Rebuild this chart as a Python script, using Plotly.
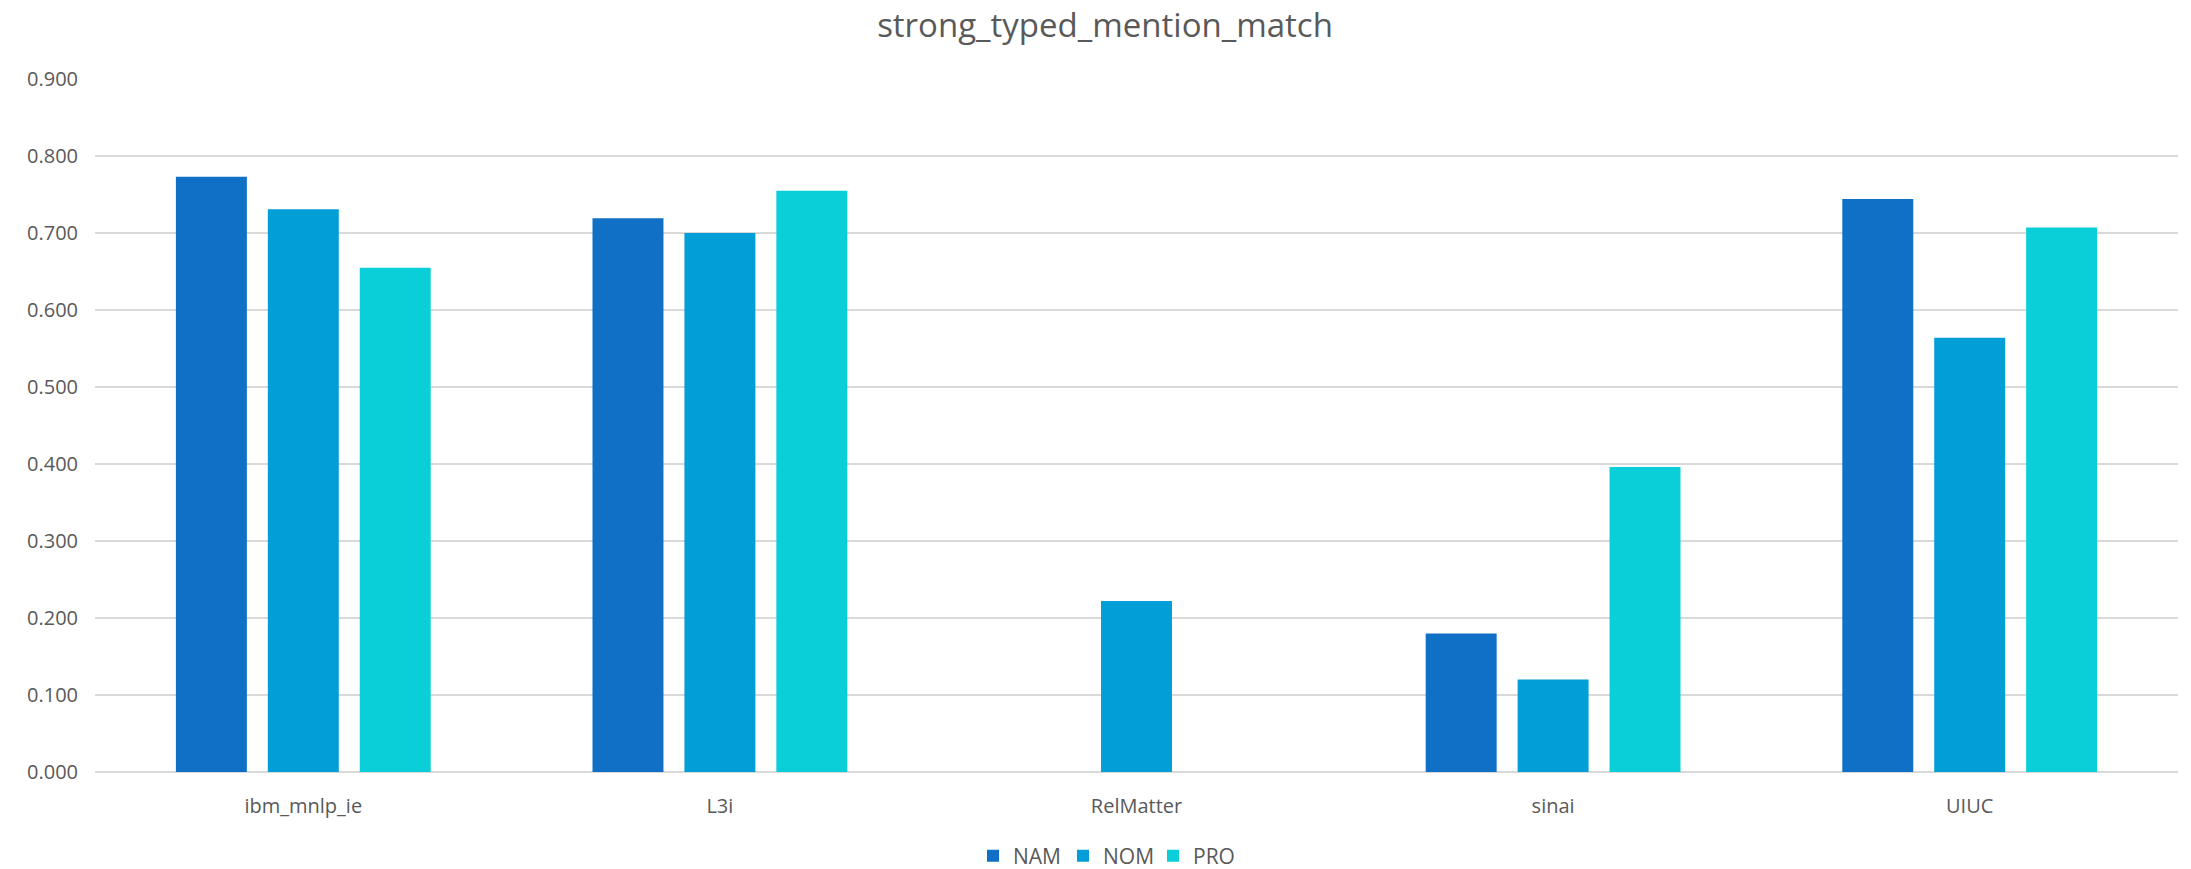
import plotly.graph_objects as go

categories = ["ibm_mnlp_ie", "L3i", "RelMatter", "sinai", "UIUC"]
nam = [0.773, 0.719, 0.0, 0.180, 0.744]
nom = [0.731, 0.700, 0.222, 0.120, 0.564]
pro = [0.655, 0.755, 0.0, 0.396, 0.707]
series_names = ["NAM", "NOM", "PRO"]
colors = ["#0F70C6", "#029ED8", "#0BCFD8"]
y_ticks = [0.0, 0.1, 0.2, 0.3, 0.4, 0.5, 0.6, 0.7, 0.8, 0.9]

FONT = "Open Sans"
TXT = "#595959"
W, H = 2191, 869

fig = go.Figure()
for name, vals, col in zip(series_names, [nam, nom, pro], colors):
    fig.add_trace(go.Bar(x=categories, y=vals, name=name,
                         marker=dict(color=col, line=dict(width=0))))

fig.update_layout(
    width=W, height=H,
    barmode="group", bargap=0.338, bargroupgap=0.228,
    plot_bgcolor="white", paper_bgcolor="white",
    margin=dict(l=95, r=13, t=79, b=97),
    font=dict(family=FONT, color=TXT, size=20),
    title=dict(text="strong_typed_mention_match", x=1105 / W, xref="container",
               xanchor="center",
               y=1 - 14 / H, yref="container", yanchor="top",
               font=dict(family=FONT, size=33, color=TXT)),
    legend=dict(orientation="h", x=973 / W, xanchor="left", xref="container",
                y=1 - 856 / H, yref="container", yanchor="middle",
                font=dict(family=FONT, size=21, color=TXT),
                entrywidth=45, entrywidthmode="pixels",
                traceorder="normal"),
    showlegend=True,
)
fig.update_yaxes(range=[0, 0.9], tickvals=y_ticks, tickformat=".3f",
                 showgrid=True, gridcolor="#D9D9D9", gridwidth=2,
                 zeroline=True, zerolinecolor="#D9D9D9", zerolinewidth=2,
                 showline=False, ticks="", ticklabelstandoff=16,
                 tickfont=dict(family=FONT, size=20, color=TXT))
fig.update_xaxes(showgrid=False, showline=False, ticks="",
                 ticklabelstandoff=20,
                 tickfont=dict(family=FONT, size=20, color=TXT))

fig.write_html("out.html",
               config={"displayModeBar": False},
               post_script="document.body.style.margin='0';document.body.style.overflow='hidden';")
